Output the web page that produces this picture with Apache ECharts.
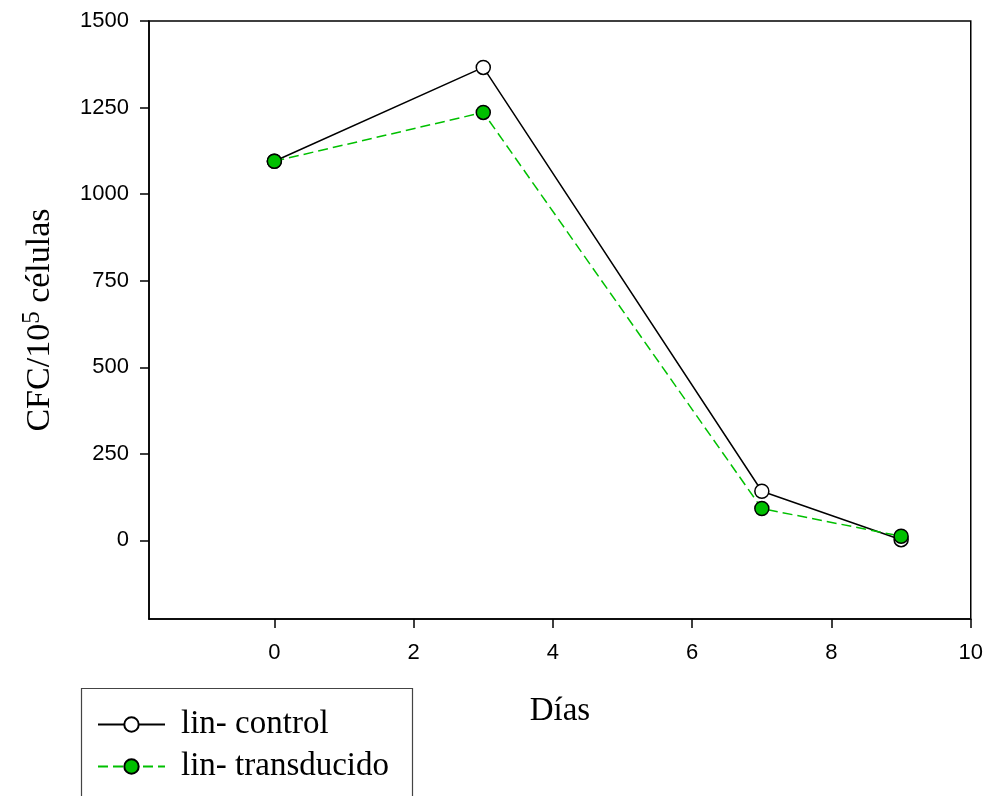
<!DOCTYPE html>
<html>
<head>
<meta charset="utf-8">
<script src="https://cdn.jsdelivr.net/npm/echarts@6/dist/echarts.min.js"></script>
<style>
  html, body { margin: 0; padding: 0; background: #fff; }
  #chart { width: 986px; height: 796px; }
</style>
</head>
<body>
<div id="chart"></div>
<script>
// Colony-forming cells per 10^5 cells over days
const days = [0, 3, 7, 9];
const linControl = [1095, 1366, 142, 2];
const linTransducido = [1095, 1236, 92, 12];
const xTicks = [0, 2, 4, 6, 8, 10];
const yTicks = [0, 250, 500, 750, 1000, 1250, 1500];
const seriesNames = ['lin- control', 'lin- transducido'];

const serif = '"Liberation Serif", "DejaVu Serif", serif';
const sans = '"Liberation Sans", Arial, sans-serif';
const green = '#00c000';

const chart = echarts.init(document.getElementById('chart'));

const toPoints = (vals) => days.map((d, i) => [d, vals[i]]);

chart.setOption({
  animation: false,
  backgroundColor: '#fff',
  grid: { left: 149, right: 15, top: 21, bottom: 177, show: true, borderColor: '#000', borderWidth: 1.5, backgroundColor: 'transparent' },
  xAxis: {
    type: 'value', min: -1.8, max: 10,
    axisLine: { show: true, onZero: false, lineStyle: { color: '#000', width: 1.5 } },
    axisTick: { show: true, inside: false, length: 9, customValues: xTicks, lineStyle: { color: '#000', width: 1.5 } },
    axisLabel: { customValues: xTicks, margin: 23, fontFamily: sans, fontSize: 22, color: '#000', formatter: (v) => String(v) },
    splitLine: { show: false },
    name: 'Días', nameLocation: 'middle', nameGap: 76,
    nameTextStyle: { fontFamily: serif, fontSize: 33, color: '#000' }
  },
  yAxis: {
    type: 'value', min: -227, max: 1500,
    axisLine: { show: true, onZero: false, lineStyle: { color: '#000', width: 1.5 } },
    axisTick: { show: true, inside: false, length: 9, customValues: yTicks, lineStyle: { color: '#000', width: 1.5 } },
    axisLabel: { customValues: yTicks, margin: 20, fontFamily: sans, fontSize: 22, color: '#000', formatter: (v) => String(v) },
    splitLine: { show: false },
    name: 'CFC/10{sup|5} células', nameLocation: 'middle', nameGap: 88, nameRotate: 90,
    nameTextStyle: {
      fontFamily: serif, fontSize: 34, color: '#000',
      rich: { sup: { fontFamily: serif, fontSize: 25, color: '#000', verticalAlign: 'bottom', padding: [0, 0, 16, 0] } }
    }
  },
  legend: {
    left: 92, top: 703, orient: 'vertical', itemGap: 9,
    itemWidth: 67, itemHeight: 18,
    textStyle: { fontFamily: serif, fontSize: 33, color: '#000', lineHeight: 32, padding: [0, 0, 0, 11] },
    data: seriesNames
  },
  graphic: [{
    type: 'rect', left: 79, top: 686, silent: true,
    shape: { width: 331, height: 130 },
    style: { fill: 'none', stroke: '#444', lineWidth: 1.2 }
  }],
  series: [
    {
      name: seriesNames[0], type: 'line', data: toPoints(linControl),
      symbol: 'circle', symbolSize: 14, z: 2,
      lineStyle: { color: '#000', width: 1.5 },
      itemStyle: { color: '#fff', borderColor: '#000', borderWidth: 1.5 }
    },
    {
      name: seriesNames[1], type: 'line', data: toPoints(linTransducido),
      symbol: 'circle', symbolSize: 14, z: 3,
      lineStyle: { color: green, width: 1.5, type: [10, 5] },
      itemStyle: { color: green, borderColor: '#000', borderWidth: 1.5 }
    }
  ]
});
</script>
</body>
</html>
